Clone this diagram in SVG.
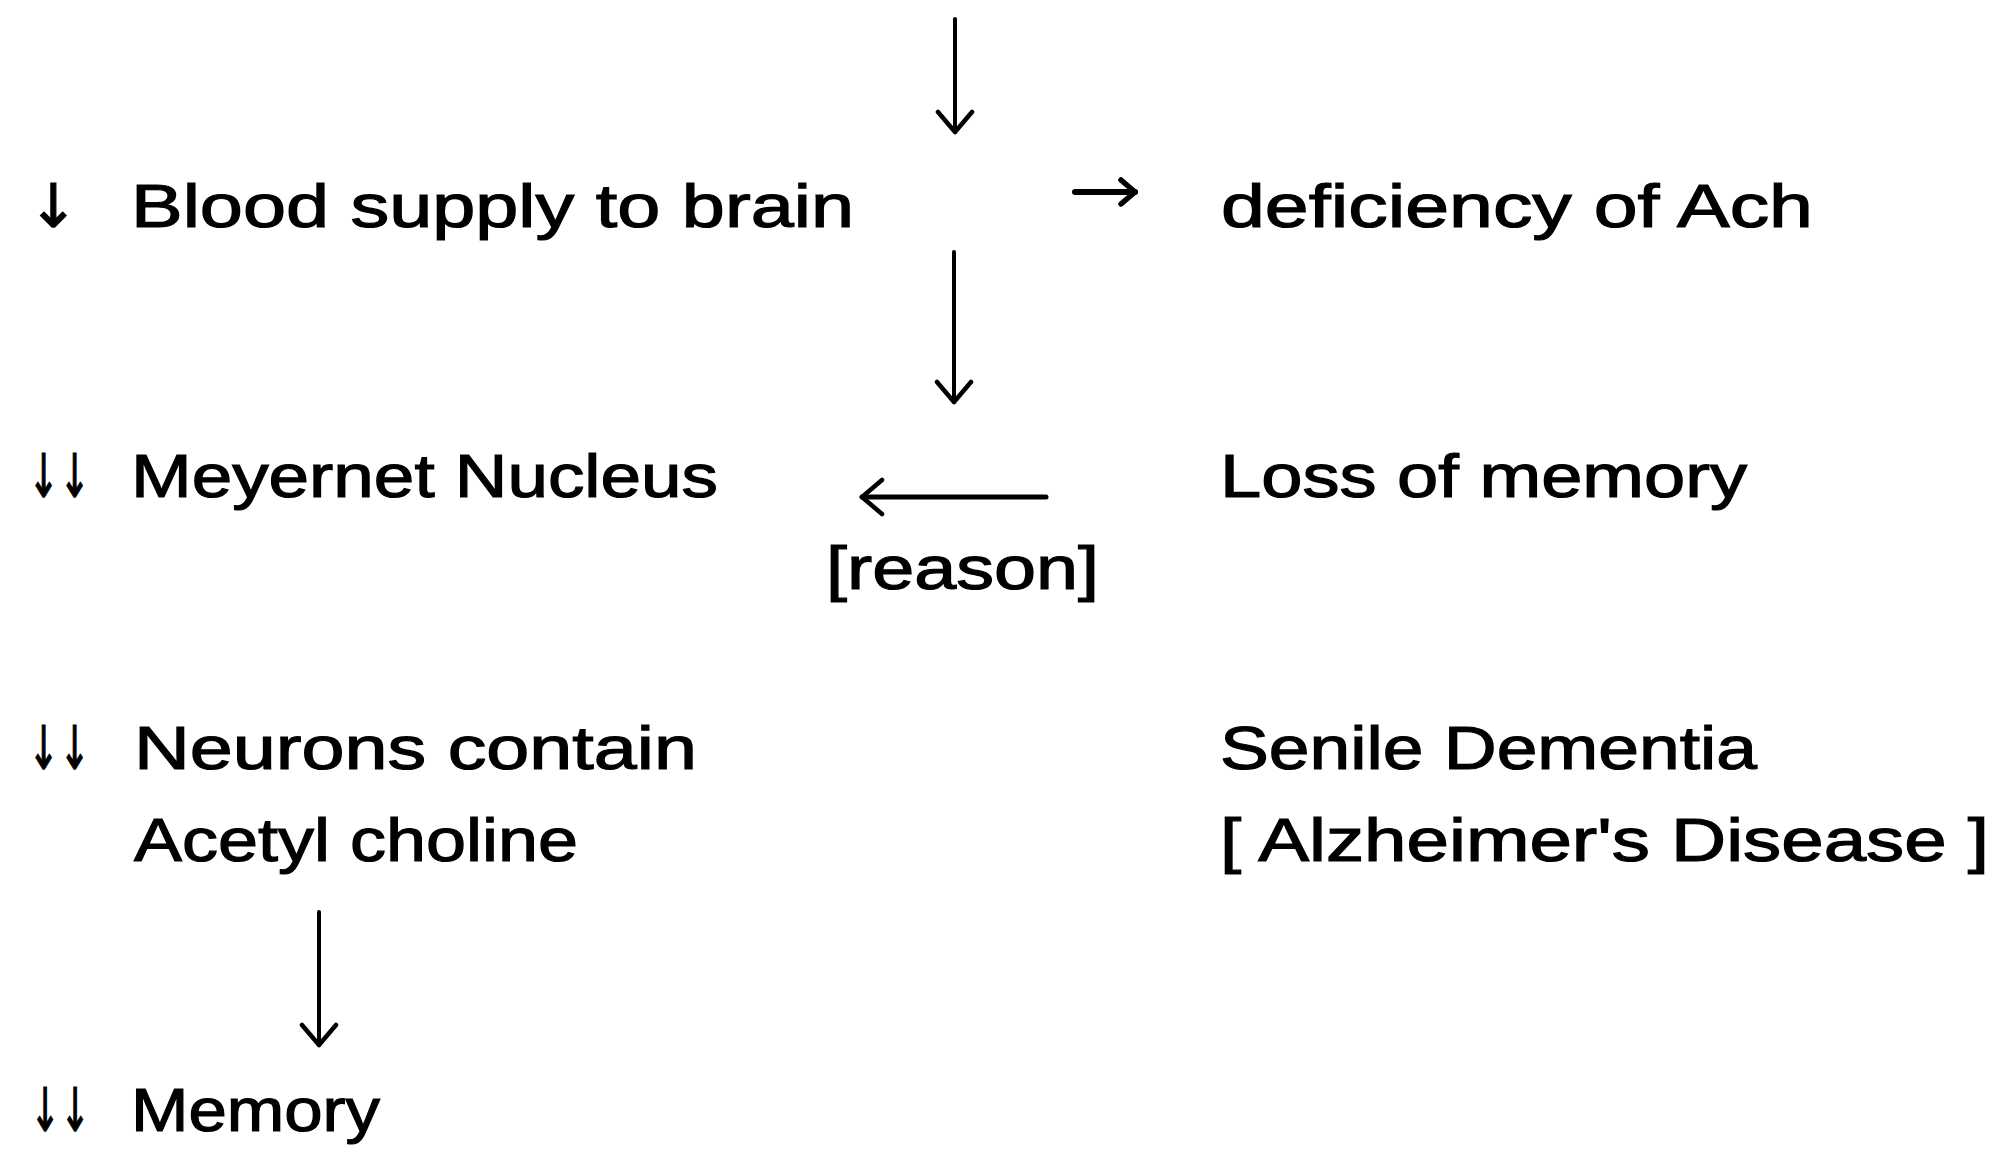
<svg xmlns="http://www.w3.org/2000/svg" width="1999" height="1152" viewBox="0 0 1999 1152">
<style>
.t{font-family:"Liberation Sans","DejaVu Sans",sans-serif;font-size:62px;fill:#000;stroke:#000;stroke-width:1.2;}
.s{font-family:"DejaVu Sans","Liberation Sans",sans-serif;font-size:60px;fill:#000;stroke:#000;stroke-width:1.2;}
.c{fill:none;stroke:#000;stroke-width:4;stroke-linecap:round;stroke-linejoin:round;}
</style>
<defs>
<marker id="ah" viewBox="0 0 26 40" refX="23" refY="20" markerWidth="26" markerHeight="40" markerUnits="userSpaceOnUse" orient="auto">
<path d="M3,3 L23,20 L3,37" fill="none" stroke="#000" stroke-width="4.5" stroke-linecap="round" stroke-linejoin="round"/>
</marker>
<marker id="ahs" viewBox="0 0 22 32" refX="18" refY="16" markerWidth="22" markerHeight="32" markerUnits="userSpaceOnUse" orient="auto">
<path d="M4,4 L18,16 L4,28" fill="none" stroke="#000" stroke-width="5.5" stroke-linecap="round" stroke-linejoin="round"/>
</marker>
</defs>
<rect width="1999" height="1152" fill="#fff"/>
<g id="connectors">
<path class="c" d="M955,19 L955,132" marker-end="url(#ah)"/>
<path class="c" d="M954,252 L954,402" marker-end="url(#ah)"/>
<path class="c" d="M1075,192 L1135,192" style="stroke-width:6" marker-end="url(#ahs)"/>
<path class="c" d="M1046,497 L862,497" style="stroke-width:5" marker-end="url(#ah)"/>
<path class="c" d="M319,912 L319,1045" marker-end="url(#ah)"/>
</g>
<g id="blood">
<text class="s" x="28" y="227">↓</text>
<text class="t" x="131" y="227" textLength="723" lengthAdjust="spacingAndGlyphs">Blood supply to brain</text>
</g>
<g id="ach">
<text class="t" x="1221" y="227" textLength="592" lengthAdjust="spacingAndGlyphs">deficiency of Ach</text>
</g>
<g id="meyernet">
<text class="s" x="28" y="497" textLength="62" lengthAdjust="spacingAndGlyphs">↓↓</text>
<text class="t" x="131" y="497" textLength="587" lengthAdjust="spacingAndGlyphs">Meyernet Nucleus</text>
</g>
<g id="reason">
<text class="t" x="826" y="589" textLength="273" lengthAdjust="spacingAndGlyphs">[reason]</text>
</g>
<g id="loss">
<text class="t" x="1220" y="497" textLength="527" lengthAdjust="spacingAndGlyphs">Loss of memory</text>
</g>
<g id="neurons">
<text class="s" x="28" y="769" textLength="62" lengthAdjust="spacingAndGlyphs">↓↓</text>
<text class="t" x="134" y="769" textLength="563" lengthAdjust="spacingAndGlyphs">Neurons contain</text>
<text class="t" x="134" y="861" textLength="444" lengthAdjust="spacingAndGlyphs">Acetyl choline</text>
</g>
<g id="senile">
<text class="t" x="1220" y="769" textLength="537" lengthAdjust="spacingAndGlyphs">Senile Dementia</text>
<text class="t" x="1220" y="861" textLength="769" lengthAdjust="spacingAndGlyphs">[ Alzheimer's Disease ]</text>
</g>
<g id="memory">
<text class="s" x="30" y="1131" textLength="60" lengthAdjust="spacingAndGlyphs">↓↓</text>
<text class="t" x="131" y="1131" textLength="249" lengthAdjust="spacingAndGlyphs">Memory</text>
</g>
</svg>
